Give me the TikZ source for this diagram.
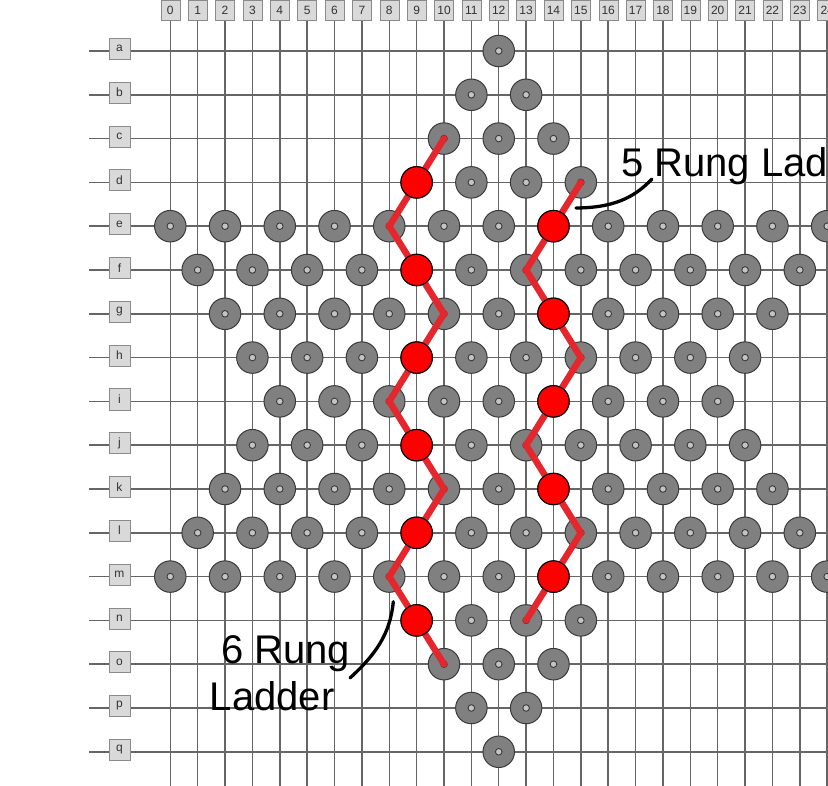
\documentclass[tikz,border=0pt]{standalone}
\usepackage{fontspec}
\setmainfont{Liberation Sans}
\usetikzlibrary{positioning,calc}
\definecolor{gridgray}{HTML}{666666}
\definecolor{tagfill}{HTML}{D9D9D9}
\definecolor{tagedge}{HTML}{8A8A8A}
\definecolor{stonefill}{HTML}{808080}
\definecolor{stoneedge}{HTML}{3A3A3A}
\definecolor{pipfill}{HTML}{C4C4C4}
\definecolor{rungred}{HTML}{E5262C}
\tikzset{gridln/.style={gridgray,line width=1.5pt},tag/.style={draw=tagedge,fill=tagfill,inner sep=0pt,font=\fontsize{12}{14}\selectfont,text=black!80},coltag/.style={tag,minimum width=19pt,minimum height=20pt},rowtag/.style={tag,minimum size=21pt},stone/.style={circle,draw=stoneedge,fill=stonefill,line width=1pt,minimum size=31.5pt,inner sep=0pt,path picture={\draw[stoneedge,fill=pipfill,line width=.9pt] (path picture bounding box.center) circle (3.3pt);}},redstone/.style={circle,draw=black,fill=red,line width=1.1pt,minimum size=31.5pt,inner sep=0pt},rung/.style={rungred,line width=6.5pt,line cap=round},leader/.style={black,line width=3.3pt,line cap=round},callout/.style={font=\fontsize{40}{47}\selectfont,inner sep=0pt,align=left}}

\begin{document}
\begin{tikzpicture}[x=27.37pt,y=-43.8pt]
\useasboundingbox (-6.222,-1.164) rectangle (24.03,16.78);
% board
\foreach \col in {0,...,24}{
  \node[coltag] (h\col) at (\col,-.925) {\col};
  \draw[gridln] (h\col.south) -- (\col,16.78);}
\foreach \r [count=\i from 0] in {a,...,q}{
  \draw[gridln] (-2.97,\i) -- (24.03,\i);
  \node[rowtag] (t\r) at (-1.856,\i-.05) {\r};}
% stones
\foreach \r/\w [count=\i from 0] in {a/0,b/1,c/2,d/3,e/12,f/11,g/10,h/9,i/8,j/9,k/10,l/11,m/12,n/3,o/2,p/1,q/0}{
  \foreach \k in {0,...,\w}{
    \pgfmathtruncatemacro\col{12-\w+2*\k}
    \node[stone] (\r\col) at (\col,\i) {};}}
% ladders
\draw[rung] (c10.center) -- (d9.center) -- (e8.center) -- (f9.center) -- (g10.center) -- (h9.center) -- (i8.center) -- (j9.center) -- (k10.center) -- (l9.center) -- (m8.center) -- (n9.center) -- (o10.center);
\draw[rung] (d15.center) -- (e14.center) -- (f13.center) -- (g14.center) -- (h15.center) -- (i14.center) -- (j13.center) -- (k14.center) -- (l15.center) -- (m14.center) -- (n13.center);
\foreach \p in {d9,f9,h9,j9,l9,n9,e14,g14,i14,k14,m14}
  \node[redstone] (r\p) at (\p) {};
% callouts
\node[callout,anchor=base west] (five) at (16.47,2.877) {5 Rung Ladder};
\node[callout,anchor=base west] (six) at (1.443,15.046) {\hspace*{.278em}6 Rung\\Ladder};
\coordinate (tip5) at (14.823,3.584);
\coordinate (end5) at (17.6,2.922);
\coordinate (tip6) at (8.148,12.573);
\coordinate (end6) at (6.566,14.315);
\draw[leader] (tip5) .. controls +(1.6,0) and +(-.5,.32) .. (end5);
\draw[leader] (tip6) .. controls +(-.12,.76) and +(.913,-.525) .. (end6);
\end{tikzpicture}
\end{document}
